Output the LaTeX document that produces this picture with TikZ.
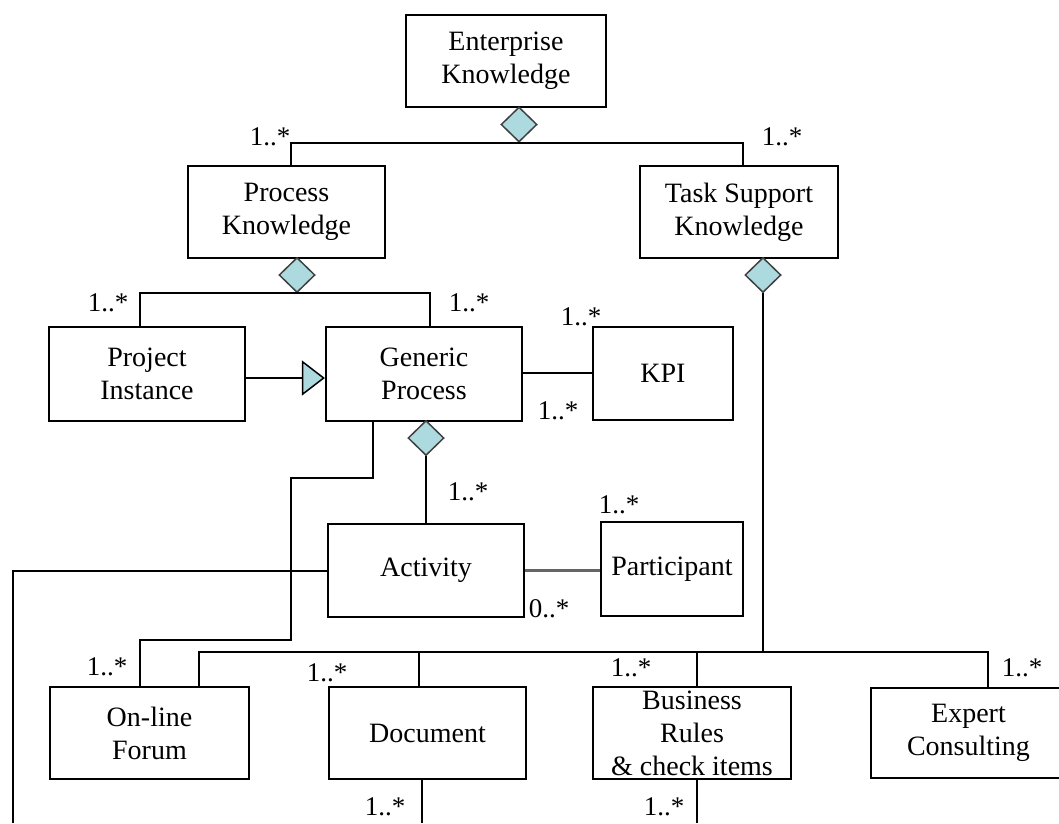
\documentclass[tikz,border=0pt]{standalone}
\usepackage{fontspec}
\setmainfont{Liberation Serif}
\usetikzlibrary{shapes.geometric,arrows.meta}
\definecolor{aggfill}{RGB}{172,218,222}
\tikzset{
  box/.style={draw, line width=2.2pt, inner sep=0pt, align=center,
    minimum width=197pt, minimum height=93pt, font=\fontsize{28}{33}\selectfont},
  agg/.style={diamond, draw=black!75, fill=aggfill, line width=1.5pt,
    minimum width=36pt, minimum height=35pt, inner sep=0pt},
  link/.style={line width=2pt},
  mult/.style={font=\fontsize{27}{30}\selectfont, inner sep=0pt},
}
\begin{document}
\begin{tikzpicture}[x=1pt,y=-1pt]
  \useasboundingbox (0,0) rectangle (1059,823);
  % classes
  \node[box, minimum width=200pt, minimum height=92pt] (ent) at (506,61) {Enterprise\\Knowledge};
  \node[box, minimum height=92pt] (pk) at (286.5,212) {Process\\Knowledge};
  \node[box, minimum width=198pt, minimum height=92pt] (tsk) at (739,212) {Task Support\\Knowledge};
  \node[box, minimum width=196pt, minimum height=94pt] (pi) at (147,374) {Project\\Instance};
  \node[box, minimum width=196pt, minimum height=94pt] (gp) at (424,374) {Generic\\Process};
  \node[box, minimum width=140pt] (kpi) at (663,373.5) {KPI};
  \node[box, minimum width=196pt] (act) at (426,570.5) {Activity};
  \node[box, minimum width=142pt, minimum height=94pt] (par) at (672,569) {Participant};
  \node[box, minimum width=199pt, minimum height=92pt] (forum) at (149.5,733) {On-line\\Forum};
  \node[box, minimum height=92pt] (doc) at (427.5,733) {Document};
  \node[box, minimum width=198pt, minimum height=92pt] (bus) at (692,733) {Business\\Rules\\\& check items};
  \node[box, minimum width=195pt, minimum height=90pt] (exp) at (968.5,733) {Expert\\Consulting};

  % aggregation diamonds
  \node[agg] (d1) at (519,124.5) {};
  \node[agg] (d2) at (297,275) {};
  \node[agg] (d3) at (763,275) {};
  \node[agg] (d4) at (426,438) {};

  % free ends and bends
  \coordinate (tbus) at (763,652);
  \coordinate (fdrop) at (140,687);
  \coordinate (actend) at (13,823);
  \coordinate (ddoc) at ([xshift=-8.5pt]doc.north);
  \coordinate (dbus) at ([xshift=5pt]bus.north);
  \coordinate (ddocs) at ([xshift=-5.5pt]doc.south);
  \coordinate (dbuss) at ([xshift=5pt]bus.south);

  % connectors
  \draw[link] ([xshift=4pt]pk.north) |- (d1.south) -| ([xshift=4pt]tsk.north);
  \draw[link] ([xshift=-7pt]pi.north) |- (d2.south) -| ([xshift=6pt]gp.north);
  \draw[link] (d3.south) -- (tbus);
  \draw[link] ([xshift=49.5pt]forum.north) |- (tbus) -| ([xshift=19.5pt]exp.north);
  \draw[link] (ddoc) -- (ddoc |- tbus);
  \draw[link] (dbus) -- (dbus |- tbus);
  \draw[link] (d4.south) -- (act.north);
  \draw[link, -{Triangle[length=23pt,width=35pt,fill=aggfill,line width=1.5pt]}]
    ([yshift=-4pt]pi.east) -- ([yshift=-4pt]gp.west);
  \draw[link] ([yshift=1.5pt]gp.east) -- ([yshift=1.5pt]gp.east -| kpi.west);
  \draw[line width=2.4pt, black!60] (act.east) -- (act.east -| par.west);
  \draw[link] ([xshift=-51pt]gp.south) |- (291,478) -- (291,640) -| (fdrop);
  \draw[link] (act.west) -| (actend);
  \draw[link] (ddocs) -- (ddocs |- actend);
  \draw[link] (dbuss) -- (dbuss |- actend);

  % multiplicities
  \node[mult] (m1) at (270,137) {1..*};
  \node[mult] (m2) at (782,137) {1..*};
  \node[mult] (m3) at (108,303) {1..*};
  \node[mult] (m4) at (469,303) {1..*};
  \node[mult] (m5) at (581,317) {1..*};
  \node[mult] (m6) at (558,411) {1..*};
  \node[mult] (m7) at (468,492) {1..*};
  \node[mult] (m8) at (619,505) {1..*};
  \node[mult] (m9) at (549,609) {0..*};
  \node[mult] (m10) at (107,667) {1..*};
  \node[mult] (m11) at (327,673) {1..*};
  \node[mult] (m12) at (631,668) {1..*};
  \node[mult] (m13) at (1022,668) {1..*};
  \node[mult] (m14) at (385,807) {1..*};
  \node[mult] (m15) at (664,807) {1..*};
\end{tikzpicture}
\end{document}
